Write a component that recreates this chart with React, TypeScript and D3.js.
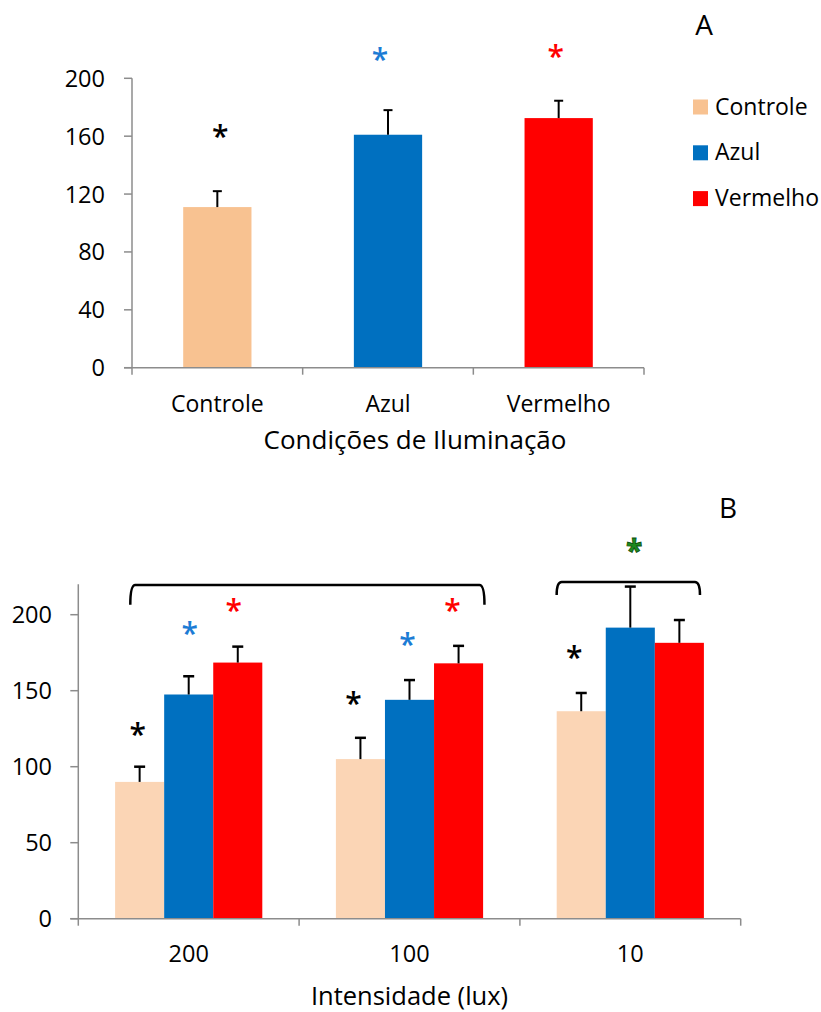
import React from "react";
import * as d3 from "d3";

// Panel A: mean per lighting condition
const conditionsA = ["Controle", "Azul", "Vermelho"];
const meansA = [111, 161, 172.5];
const errorsA = [11, 17, 12];
const ticksA = [0, 40, 80, 120, 160, 200];

// Panel B: mean per intensity, grouped by lighting condition
const intensities = ["200", "100", "10"];
const seriesNames = ["Controle", "Azul", "Vermelho"];
const controleB = [90, 105, 136.5];
const azulB = [147.5, 144, 191.5];
const vermelhoB = [168.5, 168, 181.5];
const controleErrB = [10, 14, 12];
const azulErrB = [12, 13, 27];
const vermelhoErrB = [10.5, 11.5, 15];
const ticksB = [0, 50, 100, 150, 200];

// Significance marks in panel A: [group index, value level, x nudge, colour key]
const starsA: [number, number, number, string][] = [
  [0, 163, 3, "black"],
  [1, 216, -8, "blue"],
  [2, 218, -3, "red"],
];
// Significance marks in panel B: [group index, series index, value level, x nudge, colour key]
const starsB: [number, number, number, number, string][] = [
  [0, 0, 124, -2, "black"],
  [0, 1, 190.5, 1, "blue"],
  [0, 2, 205.5, -4, "red"],
  [1, 0, 144.5, -7, "black"],
  [1, 1, 183.5, -2, "blue"],
  [1, 2, 205.5, -6, "red"],
  [2, 0, 175, -7, "black"],
  [2, 1, 245, 4, "green"],
];
// Brackets: [from group, from fraction, to group, to fraction, top level, end level]
const bracketsB: [number, number, number, number, number, number][] = [
  [0, 0.24, 1, 0.835, 219.5, 206.5],
  [2, 0.171, 2, 0.811, 221.5, 213],
];

const colorsA = ["#F8C291", "#0070C0", "#FF0000"];
const colorsB = ["#FBD5B5", "#0070C0", "#FF0000"];
const starColors: Record<string, string> = {
  black: "#000000",
  blue: "#1C7CD5",
  red: "#FF0000",
  green: "#1E8A1E",
};

const FONT = "'Open Sans', 'Noto Sans', sans-serif";
const AXIS = "#8C8C8C";

// Asterisk glyph centred on (x, y)
function Star({ x, y, color }: { x: number; y: number; color: string }) {
  const green = color === "green";
  return (
    <text
      x={x}
      y={y}
      dy="0.5em"
      textAnchor="middle"
      fontFamily={FONT}
      fontSize={30}
      fontWeight={green ? 700 : 600}
      fill={starColors[color]}
      stroke={green ? "#0B4F0B" : "none"}
      strokeWidth={green ? 0.8 : 0}
    >
      *
    </text>
  );
}

function PanelA() {
  const x = d3.scaleBand().domain(conditionsA).range([132, 644]).paddingInner(0).paddingOuter(0);
  const y = d3.scaleLinear().domain([0, 200]).range([367.7, 78.3]);
  const bw = x.bandwidth() / 2.5;
  const cap = 4.5;
  const x0 = 132;
  const x1 = 644;
  const y0 = y(0);
  return (
    <g>
      <text x={704} y={35} textAnchor="middle" fontFamily={FONT} fontSize={28} fill="#000">A</text>
      {/* bars with error bars */}
      {conditionsA.map((c, i) => {
        const cx = (x(c) as number) + x.bandwidth() / 2;
        return (
          <g key={c}>
            <rect x={cx - bw / 2} y={y(meansA[i])} width={bw} height={y0 - y(meansA[i])} fill={colorsA[i]} />
            <line x1={cx} x2={cx} y1={y(meansA[i])} y2={y(meansA[i] + errorsA[i])} stroke="#000" strokeWidth={2} />
            <line x1={cx - cap} x2={cx + cap} y1={y(meansA[i] + errorsA[i])} y2={y(meansA[i] + errorsA[i])} stroke="#000" strokeWidth={2} />
          </g>
        );
      })}
      {/* axes */}
      <line x1={x0} x2={x0} y1={y(200)} y2={y0} stroke={AXIS} strokeWidth={1.5} />
      <line x1={x0 - 8} x2={x1} y1={y0} y2={y0} stroke={AXIS} strokeWidth={1.5} />
      {ticksA.map((t) => (
        <g key={t}>
          <line x1={x0 - 8} x2={x0} y1={y(t)} y2={y(t)} stroke={AXIS} strokeWidth={1.5} />
          <text x={105} y={y(t)} dy="0.36em" textAnchor="end" fontFamily={FONT} fontSize={23.5} fill="#000">{t}</text>
        </g>
      ))}
      {[...conditionsA.map((c) => x(c) as number), x1].map((tx, i) => (
        <line key={i} x1={tx} x2={tx} y1={y0} y2={y0 + 7} stroke={AXIS} strokeWidth={1.5} />
      ))}
      {conditionsA.map((c) => (
        <text key={c} x={(x(c) as number) + x.bandwidth() / 2} y={412} textAnchor="middle" fontFamily={FONT} fontSize={23} fill="#000">{c}</text>
      ))}
      <text x={415} y={449} textAnchor="middle" fontFamily={FONT} fontSize={26} fill="#000">Condições de Iluminação</text>
      {/* significance marks */}
      {starsA.map(([g, v, dx, col], i) => (
        <Star key={i} x={(x(conditionsA[g]) as number) + x.bandwidth() / 2 + dx} y={y(v)} color={col} />
      ))}
      {/* legend */}
      {seriesNames.map((s, i) => (
        <g key={s}>
          <rect x={693} y={99.5 + i * 45.8} width={15} height={15} fill={colorsA[i]} />
          <text x={715} y={114.5 + i * 45.8} fontFamily={FONT} fontSize={23} fill="#000">{s}</text>
        </g>
      ))}
    </g>
  );
}

function PanelB() {
  const x = d3.scaleBand().domain(intensities).range([78.3, 740.7]).paddingInner(0).paddingOuter(0);
  const inner = d3.scaleBand().domain(seriesNames).range([0, x.bandwidth()]).paddingInner(0).paddingOuter(0.75);
  const y = d3.scaleLinear().domain([0, 220]).range([918.7, 584.3]);
  const values = [controleB, azulB, vermelhoB];
  const errs = [controleErrB, azulErrB, vermelhoErrB];
  const x0 = 78.3;
  const x1 = 740.7;
  const y0 = y(0);
  const cap = 5.5;
  const bw = inner.bandwidth();
  const barCx = (g: number, s: number) => (x(intensities[g]) as number) + (inner(seriesNames[s]) as number) + bw / 2;
  return (
    <g>
      <text x={728} y={518} textAnchor="middle" fontFamily={FONT} fontSize={28} fill="#000">B</text>
      {intensities.map((it, g) => (
        <g key={it}>
          {seriesNames.map((s, si) => {
            const v = values[si][g];
            const e = errs[si][g];
            const cx = barCx(g, si);
            return (
              <g key={s}>
                <rect x={cx - bw / 2} y={y(v)} width={bw} height={y0 - y(v)} fill={colorsB[si]} />
                <line x1={cx} x2={cx} y1={y(v)} y2={y(v + e)} stroke="#000" strokeWidth={2} />
                <line x1={cx - cap} x2={cx + cap} y1={y(v + e)} y2={y(v + e)} stroke="#000" strokeWidth={2.5} />
              </g>
            );
          })}
        </g>
      ))}
      {/* axes */}
      <line x1={x0} x2={x0} y1={y(220)} y2={y0} stroke={AXIS} strokeWidth={1.5} />
      <line x1={x0 - 8} x2={x1} y1={y0} y2={y0} stroke={AXIS} strokeWidth={1.5} />
      {ticksB.map((t) => (
        <g key={t}>
          <line x1={x0 - 8} x2={x0} y1={y(t)} y2={y(t)} stroke={AXIS} strokeWidth={1.5} />
          <text x={52} y={y(t)} dy="0.36em" textAnchor="end" fontFamily={FONT} fontSize={23.5} fill="#000">{t}</text>
        </g>
      ))}
      {[...intensities.map((c) => x(c) as number), x1].map((tx, i) => (
        <line key={i} x1={tx} x2={tx} y1={y0} y2={y0 + 7} stroke={AXIS} strokeWidth={1.5} />
      ))}
      {intensities.map((c) => (
        <text key={c} x={(x(c) as number) + x.bandwidth() / 2} y={961.5} textAnchor="middle" fontFamily={FONT} fontSize={23.5} fill="#000">{c}</text>
      ))}
      <text x={(x0 + x1) / 2} y={1005} textAnchor="middle" fontFamily={FONT} fontSize={25.5} fill="#000">Intensidade (lux)</text>
      {/* brackets */}
      {bracketsB.map(([ga, fa, gb, fb, top, end], i) => {
        const xa = (x(intensities[ga]) as number) + fa * x.bandwidth();
        const xb = (x(intensities[gb]) as number) + fb * x.bandwidth();
        const yt = y(top);
        const ye = y(end);
        const p = d3.path();
        p.moveTo(xa - 1, ye);
        p.quadraticCurveTo(xa - 1, yt, xa + 4, yt);
        p.lineTo(xb - 4, yt);
        p.quadraticCurveTo(xb + 1, yt, xb + 1, ye);
        return <path key={i} d={p.toString()} fill="none" stroke="#000" strokeWidth={2.5} />;
      })}
      {/* significance marks */}
      {starsB.map(([g, s, v, dx, col], i) => (
        <Star key={i} x={barCx(g, s) + dx} y={y(v)} color={col} />
      ))}
    </g>
  );
}

export default function App() {
  return (
    <svg
      width={821}
      height={1012}
      viewBox="0 0 821 1012"
      style={{ position: "absolute", left: 0, top: 0, background: "#fff" }}
    >
      <rect width={821} height={1012} fill="#fff" />
      <PanelA />
      <PanelB />
    </svg>
  );
}
